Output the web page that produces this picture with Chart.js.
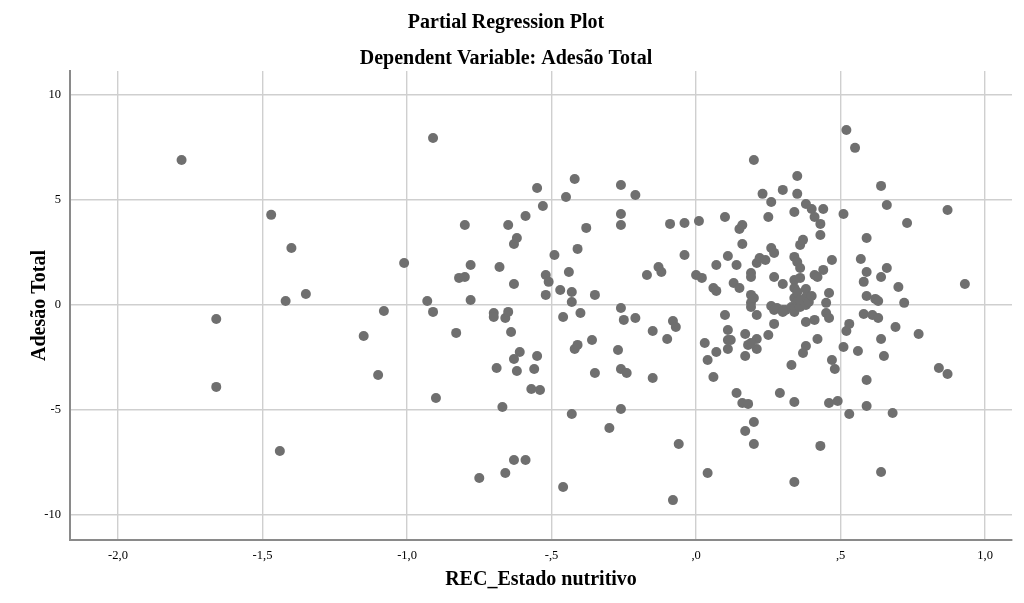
<!DOCTYPE html>
<html>
<head>
<meta charset="utf-8">
<script src="https://cdn.jsdelivr.net/npm/chart.js@4"></script>
<style>
  html, body { margin: 0; padding: 0; background: #fff; }
</style>
</head>
<body>
<canvas id="chart" width="1024" height="603"></canvas>
<script>
// REC_Estado nutritivo (x) and Adesão Total (y)
const xVals = [
  -1.78, -1.66, -1.66, -1.47, -1.40, -1.42, -1.44, -1.35, -1.15, -1.10, -1.08, -1.01,
  -0.91, -0.93, -0.91, -0.90, -0.83, -0.80, -0.82, -0.80, -0.78, -0.78, -0.75, -0.70,
  -0.70, -0.69, -0.68, -0.67, -0.66, -0.66, -0.65, -0.65, -0.64, -0.63, -0.63, -0.63,
  -0.63, -0.62, -0.62, -0.61, -0.59, -0.59, -0.57, -0.56, -0.55, -0.55, -0.54, -0.53,
  -0.52, -0.51, -0.52, -0.49, -0.47, -0.46, -0.46, -0.45, -0.44, -0.43, -0.43, -0.43,
  -0.42, -0.42, -0.41, -0.41, -0.40, -0.38, -0.36, -0.35, -0.35, -0.30, -0.27, -0.26,
  -0.26, -0.26, -0.26, -0.26, -0.26, -0.25, -0.24, -0.21, -0.21, -0.17, -0.15, -0.15,
  -0.13, -0.12, -0.10, -0.09, -0.08, -0.08, -0.07, -0.06, -0.04, -0.04, 0.00, 0.01,
  0.02, 0.03, 0.04, 0.04, 0.06, 0.06, 0.07, 0.07, 0.07, 0.10, 0.10, 0.11,
  0.11, 0.11, 0.11, 0.12, 0.13, 0.14, 0.14, 0.15, 0.15, 0.16, 0.16, 0.16,
  0.17, 0.17, 0.17, 0.18, 0.18, 0.19, 0.19, 0.19, 0.19, 0.19, 0.20, 0.20,
  0.20, 0.20, 0.21, 0.21, 0.21, 0.21, 0.22, 0.23, 0.24, 0.25, 0.25, 0.19,
  0.26, 0.26, 0.27, 0.27, 0.26, 0.27, 0.27, 0.28, 0.29, 0.30, 0.30, 0.30,
  0.31, 0.33, 0.33, 0.34, 0.34, 0.34, 0.34, 0.34, 0.34, 0.34, 0.34, 0.35,
  0.35, 0.35, 0.35, 0.35, 0.36, 0.36, 0.36, 0.36, 0.36, 0.37, 0.38, 0.38,
  0.37, 0.38, 0.38, 0.38, 0.38, 0.39, 0.40, 0.40, 0.41, 0.41, 0.41, 0.42,
  0.42, 0.43, 0.43, 0.43, 0.44, 0.44, 0.45, 0.45, 0.46, 0.46, 0.46, 0.47,
  0.47, 0.48, 0.49, 0.51, 0.51, 0.52, 0.52, 0.53, 0.53, 0.55, 0.56, 0.57,
  0.58, 0.58, 0.59, 0.59, 0.59, 0.59, 0.59, 0.61, 0.62, 0.63, 0.64, 0.64,
  0.64, 0.64, 0.65, 0.66, 0.66, 0.68, 0.69, 0.70, 0.72, 0.73, 0.77, 0.84,
  0.87, 0.87, 0.93, 0.63, 0.30
];
const yVals = [
  6.90, -0.67, -3.90, 4.29, 2.71, 0.19, -6.95, 0.52, -1.48, -3.33, -0.29, 2.00,
  7.95, 0.19, -0.33, -4.43, -1.33, 3.81, 1.29, 1.33, 1.90, 0.24, -8.24, -0.38,
  -0.57, -3.00, 1.81, -4.86, -0.62, -8.00, 3.81, -0.33, -1.29, -2.57, 2.90, 1.00,
  -7.38, 3.19, -3.14, -2.24, -7.38, 4.24, -4.00, -3.05, -2.43, 5.57, -4.05, 4.71,
  1.43, 1.10, 0.48, 2.38, 0.71, -8.67, -0.57, 5.14, 1.57, 0.62, -5.19, 0.14,
  6.00, -2.10, -1.90, 2.67, -0.38, 3.67, -1.67, -3.24, 0.48, -5.86, -2.14, 3.81,
  -0.14, -3.05, -4.95, 5.71, 4.33, -0.71, -3.24, -0.62, 5.24, 1.43, -1.24, -3.48,
  1.81, 1.57, -1.62, 3.86, -0.76, -9.29, -1.05, -6.62, 2.38, 3.90, 1.43, 4.00,
  1.29, -1.81, -8.00, -2.62, 0.81, -3.43, 1.90, 0.67, -2.24, 4.19, -0.48, -1.67,
  -2.10, 2.33, -1.19, -1.67, 1.05, -4.19, 1.90, 3.62, 0.81, -4.67, 3.81, 2.90,
  -1.38, -2.43, -6.00, -1.90, -4.71, 1.52, 1.33, 0.48, 0.10, -0.10, -5.57, -6.62,
  6.90, 0.33, 2.00, -0.48, -1.62, -2.10, 2.24, 5.29, 2.14, 4.19, -1.43, -1.81,
  4.90, 2.71, 2.48, 1.33, -0.05, -0.24, -0.90, -0.14, -4.19, -0.24, 1.00, 5.48,
  -0.24, -2.86, -0.10, 1.19, 0.33, -4.62, -8.43, 4.43, 2.29, 0.81, -0.33, 6.14,
  5.29, 0.14, 2.05, 0.62, 1.76, 2.86, -0.10, 1.29, 0.24, 3.10, 0.00, -1.95,
  -2.29, 4.81, 0.76, 0.38, -0.81, 0.14, 4.57, 0.43, 1.43, 4.19, -0.71, 1.33,
  -1.62, 3.33, -6.71, 3.86, 1.67, 4.57, 0.10, -0.38, -0.62, 0.57, -4.67, 2.14,
  -2.62, -3.05, -4.57, 4.33, -2.00, 8.33, -1.24, -0.90, -5.19, 7.48, -2.19, 2.19,
  1.10, -0.43, -4.81, 3.19, 1.57, 0.43, -3.57, -0.48, 0.29, -0.62, 5.67, 1.33,
  -1.62, -7.95, -2.43, 4.76, 1.76, -5.14, -1.05, 0.86, 0.10, 3.90, -1.38, -3.00,
  4.52, -3.29, 1.00, 0.19, -0.33
];

const xTicks = [-2, -1.5, -1, -0.5, 0, 0.5, 1];
const xTickLabels = ['-2,0', '-1,5', '-1,0', '-,5', ',0', ',5', '1,0'];
const yTicks = [-10, -5, 0, 5, 10];

const points = xVals.map((x, i) => ({ x: x, y: yVals[i] }));

Chart.defaults.font.family = "'Liberation Serif', 'Times New Roman', serif";
Chart.defaults.color = '#000';

const ctx = document.getElementById('chart').getContext('2d');
const myChart = new Chart(ctx, {
    type: 'scatter',
    data: {
        datasets: [{
            data: points,
            backgroundColor: '#6f6f6f',
            borderColor: '#6f6f6f',
            borderWidth: 0,
            pointRadius: 5,
            pointHoverRadius: 5
        }]
    },
    options: {
        responsive: false,
        animation: false,
        layout: { padding: { left: 0, right: 12, top: 0, bottom: 0 } },
        plugins: {
            legend: { display: false },
            tooltip: { enabled: false },
            title: {
                display: true,
                text: 'Partial Regression Plot',
                font: { size: 20, weight: 'bold' },
                padding: { top: 11, bottom: 5 }
            },
            subtitle: {
                display: true,
                text: 'Dependent Variable: Adesão Total',
                color: '#000',
                font: { size: 20, weight: 'bold' },
                padding: { top: 7, bottom: 0 }
            }
        },
        scales: {
            x: {
                type: 'linear',
                min: -2.166,
                max: 1.093,
                afterBuildTicks: scale => {
                    scale.ticks = xTicks.map(v => ({ value: v }));
                },
                afterFit: scale => { scale.height = 63; },
                ticks: {
                    font: { size: 12.5 },
                    padding: 8,
                    maxRotation: 0,
                    callback: (value) => {
                        const i = xTicks.indexOf(value);
                        return i >= 0 ? xTickLabels[i] : '';
                    }
                },
                grid: { color: '#cfcfcf', lineWidth: 1.4, drawTicks: false },
                border: { color: '#8a8a8a', width: 2 },
                title: {
                    display: true,
                    text: 'REC_Estado nutritivo',
                    font: { size: 20, weight: 'bold' },
                    padding: { top: 0, bottom: 11 }
                }
            },
            y: {
                type: 'linear',
                min: -11.19,
                max: 11.14,
                afterBuildTicks: scale => {
                    scale.ticks = yTicks.map(v => ({ value: v }));
                },
                afterFit: scale => { scale.width = 70; },
                ticks: {
                    font: { size: 12.5 },
                    padding: 9
                },
                grid: { color: '#cfcfcf', lineWidth: 1.4, drawTicks: false },
                border: { color: '#8a8a8a', width: 2 },
                title: {
                    display: true,
                    text: 'Adesão Total',
                    font: { size: 20, weight: 'bold' },
                    padding: { top: 28, bottom: 0 }
                }
            }
        }
    }
});
</script>
</body>
</html>
